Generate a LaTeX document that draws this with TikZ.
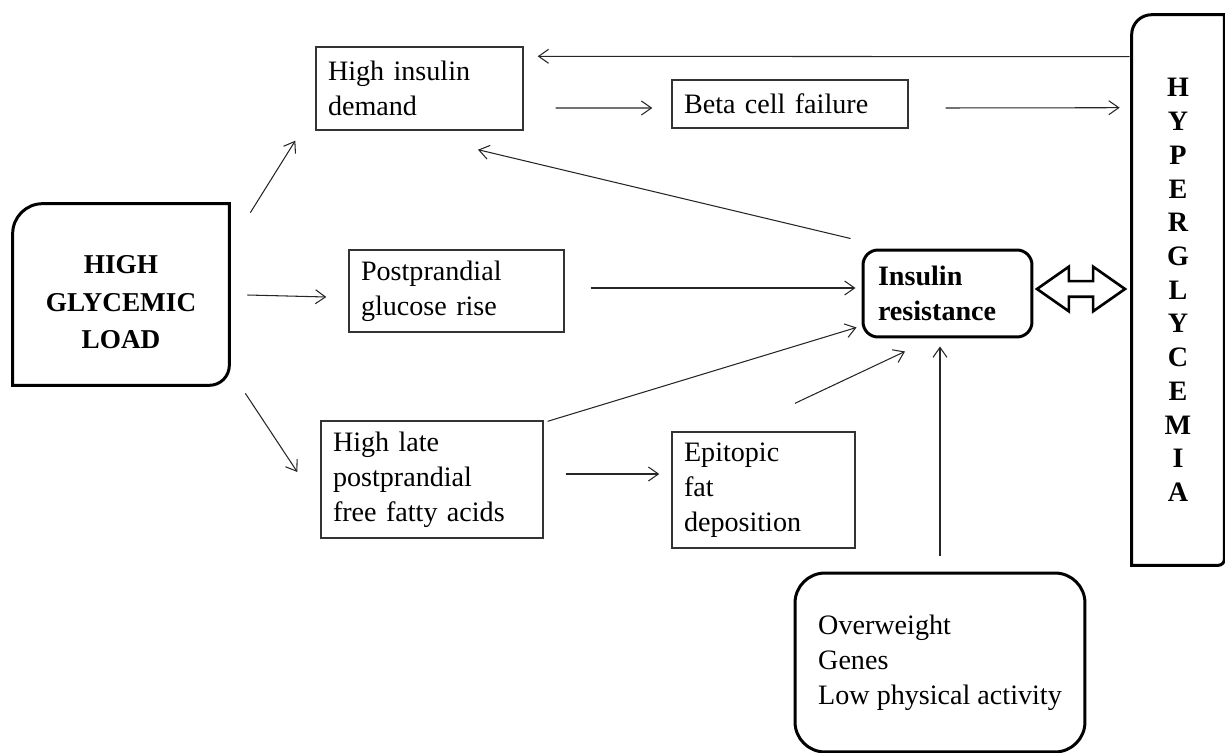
\documentclass[tikz,border=0pt]{standalone}
\usepackage{fontspec}
\setmainfont{Liberation Serif}
\usetikzlibrary{arrows.meta,calc,shapes.arrows}
\tikzset{
    plainbox/.style={draw=black!80,line width=0.8pt,align=left,inner xsep=0.24cm,inner ysep=0pt,font=\fontsize{16}{19.8}\selectfont},
    roundbox/.style={draw,line width=1.7pt,align=left,inner ysep=0pt,font=\fontsize{16}{19.8}\selectfont},
    heavy/.style={line width=1.7pt},
    arrow/.style={-{Straight Barb[length=2mm,width=2.8mm]},line width=0.6pt,black!85}
}

\begin{document}
\begin{tikzpicture}[x=0.02cm,y=0.02cm]
    \useasboundingbox (0,0) rectangle (1225,-753);
    % boxes
    \node[align=center,minimum width=4.32cm,minimum height=3.62cm,inner sep=0pt,font=\fontsize{15.5}{21.5}\selectfont\bfseries] (load) at (121,-294.5) {\rule{0pt}{19pt}HIGH\\GLYCEMIC\\LOAD};
    \node[plainbox,text width=3.66cm,minimum height=1.66cm] (demand) at (419.5,-88.5) {High insulin\\demand};
    \node[plainbox,text width=4.24cm,minimum height=0.96cm] (beta) at (790,-104) {Beta cell failure};
    \node[plainbox,text width=3.82cm,minimum height=1.64cm] (glucose) at (456.5,-291) {Postprandial\\glucose rise};
    \node[plainbox,text width=3.96cm,minimum height=2.34cm] (ffa) at (432,-479.5) {High late\\postprandial\\free fatty acids};
    \node[plainbox,text width=3.18cm,minimum height=2.32cm] (fat) at (763.5,-490) {Epitopic\\fat\\deposition};
    \node[roundbox,rounded corners=0.3cm,inner xsep=0.3cm,text width=2.78cm,minimum height=1.74cm,font=\fontsize{16}{19.5}\selectfont\bfseries] (resist) at (947.5,-293.5) {Insulin\\resistance};
    \node[roundbox,rounded corners=0.6cm,inner xsep=0pt,minimum width=5.8cm,minimum height=3.58cm] (factors) at (940,-662.5) {Overweight\\Genes\\Low physical activity};
    \node[align=center,minimum width=1.84cm,minimum height=11cm,inner sep=0pt,font=\fontsize{16}{19.2}\selectfont\bfseries] (hyper) at (1178,-290) {H\\Y\\P\\E\\R\\G\\L\\Y\\C\\E\\M\\I\\A};
    \node[double arrow,draw,line width=1.5pt,inner sep=0pt,text height=0.13cm,text depth=0.13cm,minimum height=1.76cm,double arrow head extend=0.29cm,double arrow tip angle=70] (both) at (1081,-289) {};

    % outlines with two round corners
    \draw[heavy] ([yshift=-0.6cm]load.north west) arc[start angle=180,end angle=90,radius=0.6cm] -- (load.north east) -- ([yshift=0.4cm]load.south east) arc[start angle=0,end angle=-90,radius=0.4cm] -- (load.south west) -- cycle;
    \draw[heavy] ([yshift=-0.4cm]hyper.north west) arc[start angle=180,end angle=90,radius=0.4cm] -- (hyper.north east) -- ([yshift=0.12cm]hyper.south east) arc[start angle=0,end angle=-90,radius=0.12cm] -- (hyper.south west) -- cycle;

    % arrows
    \draw[arrow] ($(load.north east)+(21,-9)$) -- ($(demand.south west)+(-20,-10)$);
    \draw[arrow] ($(load.east)+(18,-0.5)$) -- ($(glucose.west)+(-22,-6)$);
    \draw[arrow] ($(load.south east)+(16,-8)$) -- ($(ffa.west)+(-23,7.5)$);
    \draw[arrow] ($(demand.east)+(32,-19.5)$) -- ($(beta.west)+(-19,-4)$);
    \draw[arrow] ($(beta.east)+(37,-4)$) -- ($(hyper.north west)+(-12,-93)$);
    \draw[arrow] ($(hyper.north west)+(-2,-42)$) -- ($(demand.north east)+(14,-10)$);
    \draw[arrow] ($(resist.north west)+(-11,10)$) -- ($(demand.south)+(58.5,-19)$);
    \draw[arrow] ($(glucose.east)+(26,3)$) -- ($(resist.west)+(-6,5.5)$);
    \draw[arrow] ($(ffa.north east)+(4,-1)$) -- ($(resist.south west)+(-5,11)$);
    \draw[arrow] ($(ffa.east)+(22,5.5)$) -- ($(fat.west)+(-12,16)$);
    \draw[arrow] ($(fat.north)+(31.5,28)$) -- ($(resist.south)+(-42.5,-13)$);
    \draw[arrow] ($(factors.north)+(0,16)$) -- ($(resist.south)+(-7.5,-8)$);
\end{tikzpicture}
\end{document}
